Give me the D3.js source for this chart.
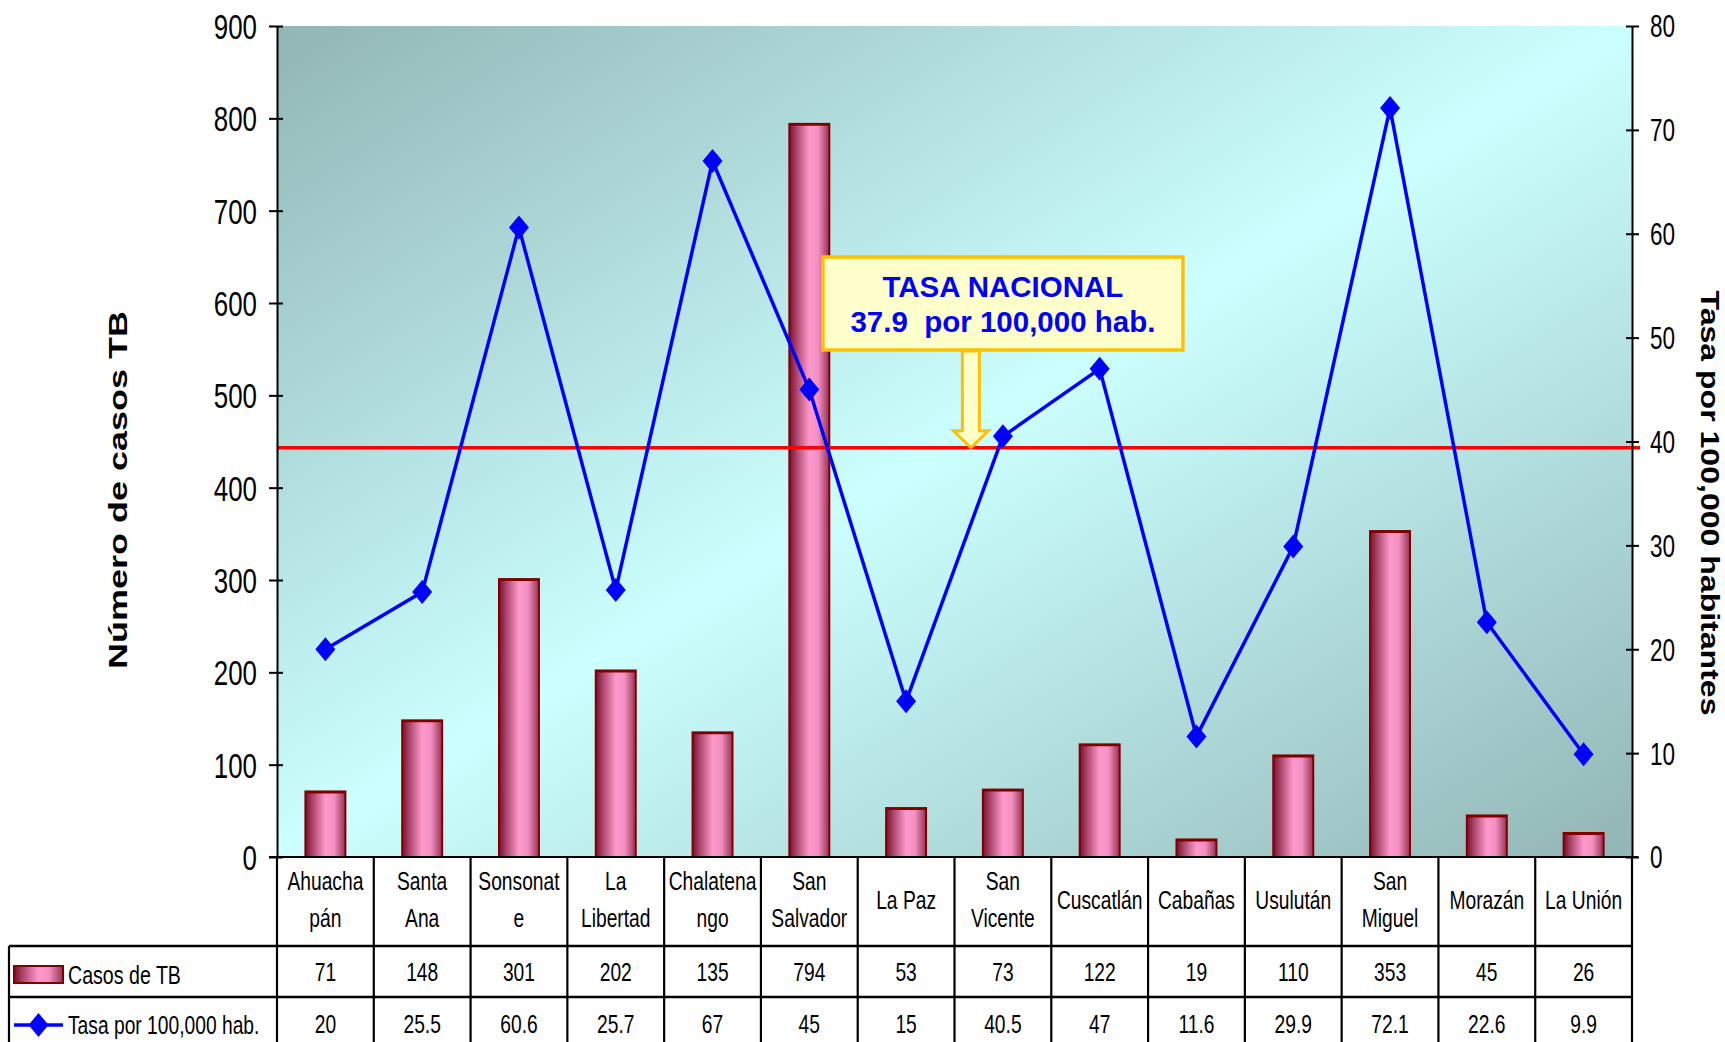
<!DOCTYPE html>
<html><head><meta charset="utf-8">
<script src="https://cdn.jsdelivr.net/npm/d3@7"></script>
<style>body{margin:0;background:#fff}svg{display:block}text{font-family:"Liberation Sans",Arial,sans-serif}</style>
</head><body><svg id="c" width="1725" height="1042"></svg>
<script>
const categories = ["Ahuachapán","Santa Ana","Sonsonate","La Libertad","Chalatenango","San Salvador","La Paz","San Vicente","Cuscatlán","Cabañas","Usulután","San Miguel","Morazán","La Unión"];
const categoryLabelLines = [["Ahuacha","pán"],["Santa","Ana"],["Sonsonat","e"],["La","Libertad"],["Chalatena","ngo"],["San","Salvador"],["La Paz"],["San","Vicente"],["Cuscatlán"],["Cabañas"],["Usulután"],["San","Miguel"],["Morazán"],["La Unión"]];
const casos = [71,148,301,202,135,794,53,73,122,19,110,353,45,26];
const tasa = [20,25.5,60.6,25.7,67,45,15,40.5,47,11.6,29.9,72.1,22.6,9.9];
const casosLabels = ["71","148","301","202","135","794","53","73","122","19","110","353","45","26"];
const tasaLabels = ["20","25.5","60.6","25.7","67","45","15","40.5","47","11.6","29.9","72.1","22.6","9.9"];
const leftTicks = [0,100,200,300,400,500,600,700,800,900];
const rightTicks = [0,10,20,30,40,50,60,70,80];
const nationalLineValue = 39.4;
const annotationLines = ["TASA NACIONAL","37.9  por 100,000 hab."];
const seriesNames = ["Casos de TB","Tasa por 100,000 hab."];
const leftTitle = "Número de casos TB";
const rightTitle = "Tasa por 100,000 habitantes";

const svg = d3.select("#c");
const L = 277, R = 1632, T = 26, B = 857;
const SX = 0.74;
const tableLeft = 9, row1 = 946, row2 = 997, row3 = 1048;

const yL = d3.scaleLinear().domain([0,900]).range([B,T]);
const yR = d3.scaleLinear().domain([0,80]).range([B,T]);
const xc = d3.scaleBand().domain(categories).range([L,R]).padding(0);
const xb = d3.scaleBand().domain(categories).range([L,R]).paddingInner(0.587).paddingOuter(0.2935);
const cx = c => xc(c) + xc.bandwidth()/2;

const defs = svg.append("defs");
const bg = defs.append("linearGradient").attr("id","bg").attr("x1",0).attr("y1",0).attr("x2",1).attr("y2",1);
[[0,"#92b5b5"],[0.5,"#ccffff"],[1,"#92b5b5"]].forEach(s=>bg.append("stop").attr("offset",s[0]).attr("stop-color",s[1]));
const bgr = defs.append("linearGradient").attr("id","bar").attr("x1",0).attr("y1",0).attr("x2",1).attr("y2",0);
[[0,"#7a0f2c"],[0.2,"#b04a72"],[0.5,"#ff99cc"],[0.72,"#f290c2"],[1,"#98304f"]].forEach(s=>bgr.append("stop").attr("offset",s[0]).attr("stop-color",s[1]));

// plot background
svg.append("rect").attr("x",L).attr("y",T).attr("width",R-L).attr("height",B-T).attr("fill","url(#bg)");

// bars
svg.append("g").selectAll("rect").data(categories).join("rect")
  .attr("x",c=>xb(c)).attr("width",xb.bandwidth())
  .attr("y",(c,i)=>yL(casos[i])).attr("height",(c,i)=>B-yL(casos[i]))
  .attr("fill","url(#bar)").attr("stroke","#800000").attr("stroke-width",2);
svg.append("g").selectAll("line").data(categories).join("line")
  .attr("x1",c=>xb(c)).attr("x2",c=>xb(c)+xb.bandwidth())
  .attr("y1",(c,i)=>yL(casos[i])+1).attr("y2",(c,i)=>yL(casos[i])+1)
  .attr("stroke","#800000").attr("stroke-width",2);

// national line
svg.append("line").attr("x1",L).attr("x2",R+8).attr("y1",yR(nationalLineValue)).attr("y2",yR(nationalLineValue))
  .attr("stroke","#ff0000").attr("stroke-width",3.5);

// rate line
const line = d3.line().x((d,i)=>cx(categories[i])).y(d=>yR(d));
svg.append("path").datum(tasa).attr("d",line).attr("fill","none").attr("stroke","#0000ff").attr("stroke-width",3.5);
const diamond = "M0,-12L10,0L0,12L-10,0Z";
svg.append("g").selectAll("path").data(tasa).join("path")
  .attr("d",diamond).attr("transform",(d,i)=>`translate(${cx(categories[i])},${yR(d)})`).attr("fill","#0000ff");

// left axis
const axL = svg.append("g").attr("transform",`translate(${L},0)`)
  .call(d3.axisLeft(yL).tickValues(leftTicks).tickSizeOuter(0).tickSizeInner(8));
axL.select(".domain").attr("stroke","#000").attr("stroke-width",2);
axL.selectAll(".tick line").attr("x1",6).attr("x2",-8).attr("stroke-width",2);
axL.selectAll(".tick text").attr("x",null).attr("dy",null).attr("y",null)
  .attr("transform",`translate(-20,${0.358*35}) scale(${SX},1)`).attr("font-size",35).attr("font-family","Liberation Sans, Arial, sans-serif").attr("fill","#000");

// right axis
const axR = svg.append("g").attr("transform",`translate(${R},0)`)
  .call(d3.axisRight(yR).tickValues(rightTicks).tickSizeOuter(0).tickSizeInner(7));
axR.select(".domain").attr("stroke","#000").attr("stroke-width",2);
axR.selectAll(".tick line").attr("x1",-6).attr("x2",7).attr("stroke-width",2);
axR.selectAll(".tick text").attr("x",null).attr("dy",null).attr("y",null)
  .attr("transform",`translate(18,${0.358*30.5}) scale(${SX},1)`).attr("font-size",30.5).attr("font-family","Liberation Sans, Arial, sans-serif").attr("fill","#000");

// x axis / table
const tg = svg.append("g").attr("stroke","#000").attr("stroke-width",2.2);
tg.append("line").attr("x1",L-8).attr("x2",R+6).attr("y1",B).attr("y2",B);
tg.append("line").attr("x1",tableLeft).attr("x2",R).attr("y1",row1).attr("y2",row1).attr("stroke-width",2.6);
tg.append("line").attr("x1",tableLeft).attr("x2",R).attr("y1",row2).attr("y2",row2).attr("stroke-width",2.6);
tg.append("line").attr("x1",tableLeft).attr("x2",tableLeft).attr("y1",row1).attr("y2",row3);
const bounds = categories.map(c=>xc(c)).concat([R]);
tg.selectAll("line.v").data(bounds).join("line").attr("class","v")
  .attr("x1",d=>d).attr("x2",d=>d).attr("y1",B).attr("y2",row3);

function ntext(g, x, y, str, size, anchor){
  return g.append("text").attr("transform",`translate(${x},${y}) scale(${SX},1)`)
    .attr("font-size",size).attr("text-anchor",anchor||"middle").attr("fill","#000").style("white-space","pre").text(str);
}
const FS = 26;
const lg = svg.append("g");
categories.forEach((c,i)=>{
  const lines = categoryLabelLines[i];
  if(lines.length===2){
    ntext(lg, cx(c), 890, lines[0], FS);
    ntext(lg, cx(c), 927, lines[1], FS);
  } else {
    ntext(lg, cx(c), 909, lines[0], FS);
  }
  ntext(lg, cx(c), 981, casosLabels[i], FS);
  ntext(lg, cx(c), 1033, tasaLabels[i], FS);
});
// legend keys
lg.append("rect").attr("x",14).attr("y",966).attr("width",49).attr("height",17).attr("fill","url(#bar)").attr("stroke","#800000").attr("stroke-width",2);
ntext(lg, 68, 984, seriesNames[0], 26.5, "start");
lg.append("line").attr("x1",14).attr("x2",63).attr("y1",1025).attr("y2",1025).attr("stroke","#0000ff").attr("stroke-width",3.5);
lg.append("path").attr("d",diamond).attr("transform","translate(38.5,1025)").attr("fill","#0000ff");
ntext(lg, 68, 1034, seriesNames[1], 26, "start");

// titles
svg.append("text").attr("transform","translate(118,490) rotate(-90)")
  .attr("text-anchor","middle").attr("dominant-baseline","central").attr("font-weight","bold").attr("font-size",26)
  .attr("textLength",358).attr("lengthAdjust","spacingAndGlyphs").attr("fill","#000").text(leftTitle);
svg.append("text").attr("transform","translate(1710,503) rotate(90)")
  .attr("text-anchor","middle").attr("dominant-baseline","central").attr("font-weight","bold").attr("font-size",25)
  .attr("textLength",425).attr("lengthAdjust","spacingAndGlyphs").attr("fill","#000").text(rightTitle);

// annotation
const ax = cx("San Vicente");
const ag = svg.append("g");
ag.append("rect").attr("x",ax-180).attr("y",257).attr("width",360).attr("height",93)
  .attr("fill","#ffffcc").attr("stroke","#ffc000").attr("stroke-width",3.5);
ag.append("text").attr("x",ax).attr("y",297).attr("text-anchor","middle").attr("font-weight","bold").attr("font-size",29.5)
  .attr("fill","#0000ff").style("white-space","pre").text(annotationLines[0]);
ag.append("text").attr("x",ax).attr("y",332).attr("text-anchor","middle").attr("font-weight","bold").attr("font-size",29.5)
  .attr("fill","#0000ff").style("white-space","pre").text(annotationLines[1]);
const tipY = yR(nationalLineValue), axx = ax-32;
ag.append("path").attr("d",`M${axx-8.5},351L${axx+8.5},351L${axx+8.5},${tipY-17}L${axx+17.5},${tipY-17}L${axx},${tipY}L${axx-17.5},${tipY-17}L${axx-8.5},${tipY-17}Z`)
  .attr("fill","#ffffcc").attr("stroke","#ffc000").attr("stroke-width",3);
</script></body></html>
